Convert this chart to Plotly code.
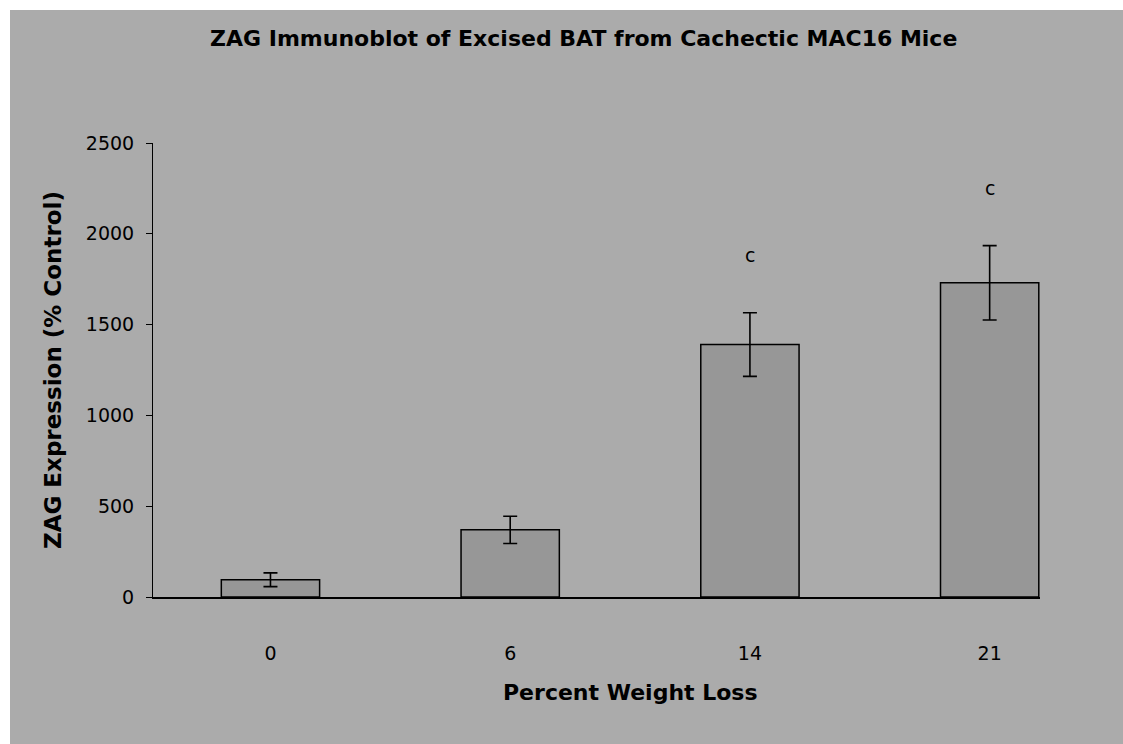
import plotly.graph_objects as go

# Percent body weight loss groups and ZAG band intensity (% of control)
weight_loss = ["0", "6", "14", "21"]
zag_expression = [95, 370, 1390, 1730]
zag_sem = [38, 75, 175, 205]
significance = ["", "", "c", "c"]
y_ticks = [0, 500, 1000, 1500, 2000, 2500]

W, H = 1123, 744
L, R, T, B = 153, 83, 143, 147
plot_w, plot_h = W - L - R, H - T - B


def px_to_paper_x(px):
    return (px - L) / plot_w


def px_to_paper_y(py):
    return (H - B - py) / plot_h


BG = "#ababab"
BAR = "#979797"
FONT = "DejaVu Sans"

fig = go.Figure()
fig.add_trace(go.Bar(
    x=weight_loss,
    y=zag_expression,
    width=0.41,
    marker=dict(color=BAR, line=dict(color="black", width=1.5)),
    error_y=dict(type="data", array=zag_sem, visible=True,
                 color="black", thickness=1.6, width=7),
    showlegend=False,
))

annotations = []
# significance letters sit above the error bar of each group (category index positions)
for i, (val, err, mark) in enumerate(zip(zag_expression, zag_sem, significance)):
    if mark:
        annotations.append(dict(
            x=i, y=val + err, xref="x", yref="y", text=mark,
            showarrow=False, yshift=58, yanchor="middle",
            font=dict(family=FONT, size=19, color="black"),
        ))

annotations += [
    dict(text="ZAG Immunoblot of Excised BAT from Cachectic MAC16 Mice",
         x=px_to_paper_x(583), y=px_to_paper_y(38), xref="paper", yref="paper",
         xanchor="center", yanchor="middle", showarrow=False,
         font=dict(family=FONT, size=22, color="black", weight="bold")),
    dict(text="Percent Weight Loss",
         x=px_to_paper_x(630), y=px_to_paper_y(692), xref="paper", yref="paper",
         xanchor="center", yanchor="middle", showarrow=False,
         font=dict(family=FONT, size=22, color="black", weight="bold")),
    dict(text="ZAG Expression (% Control)", textangle=-90,
         x=px_to_paper_x(53), y=px_to_paper_y(370), xref="paper", yref="paper",
         xanchor="center", yanchor="middle", showarrow=False,
         font=dict(family=FONT, size=23, color="black", weight="bold")),
]

# white page margin along the top and left edges
shapes = [
    dict(type="rect", xref="paper", yref="paper", layer="below",
         x0=px_to_paper_x(0), x1=px_to_paper_x(W), y0=px_to_paper_y(10), y1=px_to_paper_y(0),
         fillcolor="white", line=dict(width=0)),
    dict(type="rect", xref="paper", yref="paper", layer="below",
         x0=px_to_paper_x(0), x1=px_to_paper_x(10), y0=px_to_paper_y(H), y1=px_to_paper_y(0),
         fillcolor="white", line=dict(width=0)),
]

fig.update_layout(
    width=W, height=H,
    margin=dict(l=L, r=R, t=T, b=B, pad=0),
    paper_bgcolor=BG, plot_bgcolor=BG,
    annotations=annotations, shapes=shapes,
    font=dict(family=FONT, size=18, color="black"),
    xaxis=dict(type="category", range=[-0.49, 3.21], showline=True,
               linecolor="black", linewidth=1.5, ticks="", showgrid=False,
               zeroline=False, ticklabelstandoff=38,
               tickfont=dict(family=FONT, size=19)),
    yaxis=dict(range=[0, 2500], tickvals=y_ticks, showline=True,
               linecolor="black", linewidth=1, ticks="outside", ticklen=6,
               tickcolor="black", showgrid=False, zeroline=False,
               ticklabelstandoff=8, tickfont=dict(family=FONT, size=19)),
)

fig.write_html("out.html")
